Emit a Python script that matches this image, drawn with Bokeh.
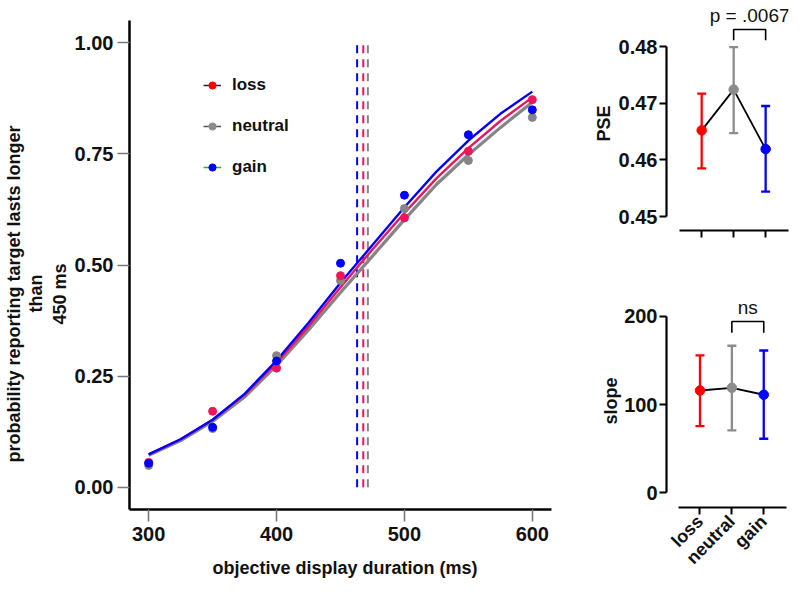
import math
from bokeh.plotting import figure
from bokeh.layouts import row, column
from bokeh.models import FixedTicker, NumeralTickFormatter, Label, Legend, LegendItem, Title
from bokeh.embed import file_html
from bokeh.resources import INLINE

# ---------------- data ----------------
durations = [300, 350, 400, 450, 500, 550, 600]
loss_prop = [0.056, 0.171, 0.268, 0.476, 0.606, 0.756, 0.872]
neutral_prop = [0.049, 0.132, 0.296, 0.465, 0.627, 0.735, 0.832]
gain_prop = [0.054, 0.135, 0.284, 0.504, 0.657, 0.793, 0.849]

fit_x = [300, 325, 350, 375, 400, 425, 450, 475, 500, 525, 550, 575, 600]
loss_fit = [0.074, 0.108, 0.152, 0.208, 0.280, 0.362, 0.450, 0.535, 0.617, 0.695, 0.763, 0.824, 0.877]
neutral_fit = [0.072, 0.105, 0.148, 0.203, 0.274, 0.354, 0.438, 0.520, 0.602, 0.681, 0.748, 0.809, 0.866]
gain_fit = [0.074, 0.108, 0.152, 0.210, 0.285, 0.370, 0.460, 0.545, 0.630, 0.710, 0.780, 0.840, 0.890]
fit_pse_ms = [467.8, 471.4, 463.0]   # loss, neutral, gain (dashed lines)

conditions = ["loss", "neutral", "gain"]
pse_mean = [0.4652, 0.4724, 0.4619]
pse_lo = [0.4585, 0.4647, 0.4544]
pse_hi = [0.4717, 0.4799, 0.4695]
slope_mean = [116.0, 119.1, 111.2]
slope_lo = [75.6, 70.7, 61.3]
slope_hi = [155.8, 166.8, 161.4]

x_ticks = [300, 400, 500, 600]
y_ticks = [0.0, 0.25, 0.5, 0.75, 1.0]
pse_ticks = [0.45, 0.46, 0.47, 0.48]
slope_ticks = [0, 100, 200]
pse_test = "p = .0067"
slope_test = "ns"
main_xlabel = "objective display duration (ms)"
main_ylabel_lines = ["probability reporting target lasts longer", "than", "450 ms"]

# ---------------- styles ----------------
FONT = "Liberation Sans"
TXT = "#111111"
main_colors = {"loss": "#f0145a", "neutral": "#858585", "gain": "#0000ff"}
panel_colors = ["#ff0000", "#8c8c8c", "#0000ff"]
legend_line_colors = ["#222222", "#555555", "#22bb22"]


def style_axis(ax, size="20px", tick_color="#777777", tick_out=12, standoff=4, lw=2.5):
    ax.axis_line_color = "black"
    ax.axis_line_width = lw
    ax.major_tick_line_color = tick_color
    ax.major_tick_line_width = 1.6
    ax.major_tick_out = tick_out
    ax.major_tick_in = 0
    ax.minor_tick_line_color = None
    ax.major_label_text_font = FONT
    ax.major_label_text_font_style = "bold"
    ax.major_label_text_font_size = size
    ax.major_label_text_color = TXT
    ax.major_label_standoff = standoff


def side_title(text, offset, standoff, valign="bottom"):
    # side title, start of text placed `offset` px from the frame's start edge
    return Title(text=text, align="left", offset=offset, standoff=standoff,
                 vertical_align=valign,
                 text_font=FONT, text_font_style="bold", text_font_size="18px",
                 text_color=TXT)


# ---------------- main psychometric plot ----------------
p = figure(width=580, height=592, x_range=(285, 615), y_range=(-0.05, 1.05),
           output_backend="svg", toolbar_location=None,
           min_border_left=129, min_border_right=29, min_border_top=20, min_border_bottom=83)
p.outline_line_color = None
p.grid.grid_line_color = None
p.xaxis.ticker = FixedTicker(ticks=x_ticks)
p.yaxis.ticker = FixedTicker(ticks=y_ticks)
p.yaxis.formatter = NumeralTickFormatter(format="0.00")
style_axis(p.xaxis[0], standoff=5)
style_axis(p.yaxis[0])
p.add_layout(side_title(main_xlabel, 83, 27, "middle"), "below")
# three centred lines, innermost first
p.add_layout(side_title(main_ylabel_lines[2], 185, 4), "left")
p.add_layout(side_title(main_ylabel_lines[1], 197, 0), "left")
p.add_layout(side_title(main_ylabel_lines[0], 47, 0), "left")

# vertical PSE lines
for c, m in zip(conditions, fit_pse_ms):
    p.line([m, m], [0, 1], line_color=main_colors[c], line_width=2, line_dash="8 6")

# fitted curves
p.line(fit_x, neutral_fit, line_color=main_colors["neutral"], line_width=3.2)
p.line(fit_x, loss_fit, line_color=main_colors["loss"], line_width=2.4)
p.line(fit_x, gain_fit, line_color=main_colors["gain"], line_width=2.4)

# data points
p.scatter(durations, neutral_prop, size=8, color=main_colors["neutral"])
p.scatter(durations, loss_prop, size=8, color=main_colors["loss"])
p.scatter(durations, gain_prop, size=8, color=main_colors["gain"])

# legend (legend-only renderers)
items = []
for c, dc, lc in zip(conditions, panel_colors, legend_line_colors):
    lr = p.line([math.nan], [math.nan], line_color=lc, line_width=1.5)
    sr = p.scatter([math.nan], [math.nan], size=10, color=dc)
    items.append(LegendItem(label=c, renderers=[lr, sr]))
legend = Legend(items=items, location=(74, 332), orientation="vertical",
                glyph_width=18, glyph_height=20, label_height=20, spacing=21,
                label_standoff=11, padding=0, margin=0,
                border_line_color=None, background_fill_alpha=0,
                label_text_font=FONT, label_text_font_style="bold",
                label_text_font_size="17px", label_text_color=TXT)
p.add_layout(legend)

idx = list(range(len(conditions)))


def panel(width, height, xr, yr, borders, ticks, fmt, means, lo, hi, ylabel, ylab_off,
          ylab_standoff, bracket, btext, btext_y, bounds_x, bounds_y, show_labels):
    f = figure(width=width, height=height, x_range=xr, y_range=yr,
               output_backend="svg", toolbar_location=None,
               min_border_left=borders[0], min_border_right=borders[1],
               min_border_top=borders[2], min_border_bottom=borders[3])
    f.outline_line_color = None
    f.grid.grid_line_color = None
    f.xaxis.ticker = FixedTicker(ticks=idx)
    f.xaxis.major_label_overrides = {i: c for i, c in zip(idx, conditions)}
    f.yaxis.ticker = FixedTicker(ticks=ticks)
    if fmt:
        f.yaxis.formatter = NumeralTickFormatter(format=fmt)
    style_axis(f.yaxis[0], tick_color="black", tick_out=7, standoff=2, lw=2.2)
    style_axis(f.xaxis[0], tick_color="black", tick_out=7, standoff=4, lw=2.2, size="18px")
    f.xaxis.bounds = bounds_x
    f.yaxis.bounds = bounds_y
    f.xaxis.major_tick_line_width = 2
    f.yaxis.major_tick_line_width = 2
    if show_labels:
        f.xaxis.major_label_orientation = math.pi / 4
    else:
        f.xaxis.major_label_text_font_size = "0px"
        f.xaxis.major_label_standoff = 0
        f.xaxis.major_label_overrides = {i: "" for i in idx}
    f.add_layout(side_title(ylabel, ylab_off, ylab_standoff), "left")
    # error bars
    f.segment(idx, lo, idx, hi, line_color=panel_colors, line_width=2.3)
    f.scatter(idx, lo, marker="dash", size=9, line_color=panel_colors, line_width=2.3)
    f.scatter(idx, hi, marker="dash", size=9, line_color=panel_colors, line_width=2.3)
    f.line(idx, means, line_color="black", line_width=1.8)
    f.scatter(idx, means, size=9.5, color=panel_colors)
    # significance bracket between neutral and gain
    yb, yt = bracket
    f.line([1, 1, 2, 2], [yb, yt, yt, yb], line_color="black", line_width=1.6)
    f.add_layout(Label(x=1.5, y=btext_y, text=btext, text_align="center",
                       text_baseline="middle", text_font=FONT, text_font_size="19px",
                       text_color=TXT))
    return f


pse = panel(220, 242, (-1.1, 2.715), (0.44753, 0.48812), (86, 10, 0, 12),
            pse_ticks, "0.00", pse_mean, pse_lo, pse_hi, "PSE", 89, 4,
            (0.4811, 0.4830), pse_test, 0.48547, (-0.7, 2.715), (0.45, 0.48), False)

slope = panel(220, 350, (-1.05, 2.776), (-16.7, 283.9), (79, 12, 0, 85),
              slope_ticks, None, slope_mean, slope_lo, slope_hi, "slope", 83, 2,
              (181.5, 194.3), slope_test, 210.0, (-0.67, 2.71), (0, 200), True)

layout = row(p, column(pse, slope))
open("out.html", "w").write(file_html(layout, INLINE))
